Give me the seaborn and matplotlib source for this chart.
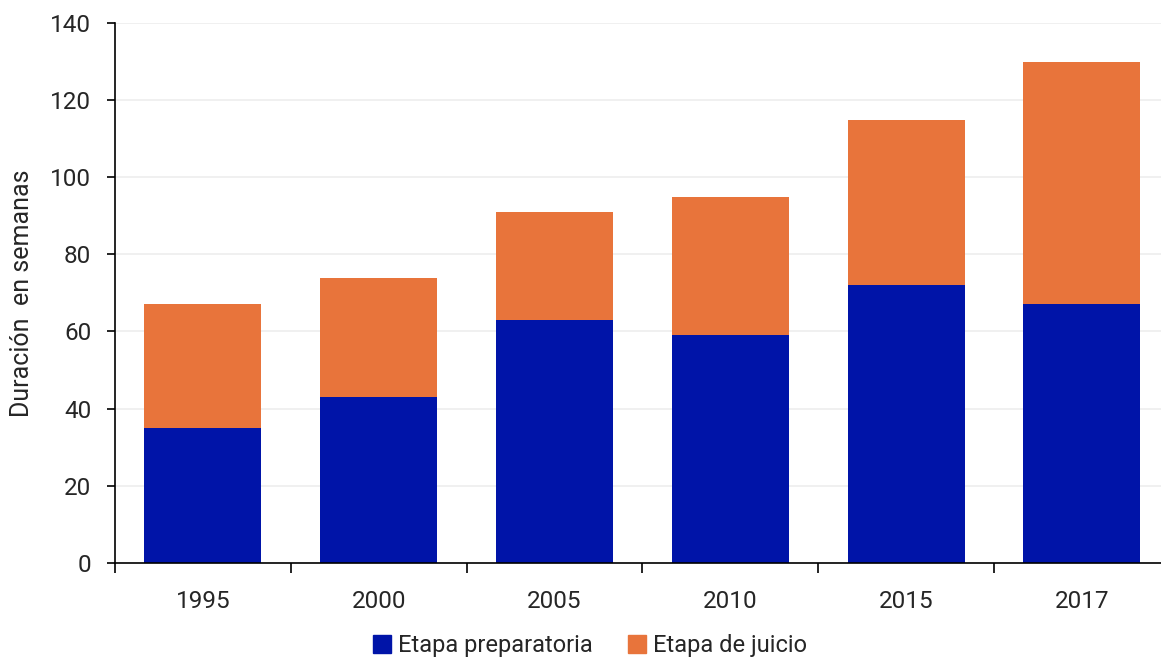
import matplotlib
matplotlib.use("Agg")
import matplotlib.pyplot as plt
import seaborn as sns
import pandas as pd
import numpy as np
from matplotlib.patches import Patch

years = ["1995", "2000", "2005", "2010", "2015", "2017"]
preparatoria = [35, 43, 63, 59, 72, 67]
juicio = [32, 31, 28, 36, 43, 63]
totals = [p + j for p, j in zip(preparatoria, juicio)]

BLUE = "#0014A8"
ORANGE = "#E8743B"

sns.set_theme(style="white")
plt.rcParams['font.family'] = ['Roboto', 'DejaVu Sans']

fig = plt.figure(figsize=(11.61, 6.62), dpi=100)
ax = fig.add_axes([0.099, 0.150, 0.901, 0.815])

df = pd.DataFrame({"year": years, "total": totals, "prep": preparatoria})
sns.barplot(data=df, x="year", y="total", color=ORANGE, width=0.665, ax=ax,
            saturation=1, edgecolor="none")
sns.barplot(data=df, x="year", y="prep", color=BLUE, width=0.665, ax=ax,
            saturation=1, edgecolor="none")

ax.set_ylim(0, 140)
ax.set_xlim(-0.5, 5.45)
ax.set_yticks(np.arange(0, 141, 20))
ax.yaxis.grid(True, color="#eeeeee", linewidth=1.2)
ax.set_axisbelow(True)
ax.xaxis.grid(False)

for s in ["top", "right"]:
    ax.spines[s].set_visible(False)
for s in ["left", "bottom"]:
    ax.spines[s].set_color("black")
    ax.spines[s].set_linewidth(1.2)

ax.tick_params(axis="y", which="major", left=True, length=6, width=1.2,
               color="black", labelsize=17.5, pad=11)
ax.tick_params(axis="x", which="major", bottom=False, labelsize=17.5, pad=14)
ax.set_xticks(np.arange(-0.5, 5.0, 1.0), minor=True)
ax.tick_params(axis="x", which="minor", bottom=True, length=7, width=1.2,
               color="black")

ax.set_xlabel("")
ax.set_ylabel("Duración  en semanas", fontsize=18, labelpad=12)

handles = [Patch(color=BLUE, label="Etapa preparatoria"),
           Patch(color=ORANGE, label="Etapa de juicio")]
fig.legend(handles=handles, loc="lower center", bbox_to_anchor=(0.508, -0.025),
           ncol=2, frameon=False, fontsize=17, handlelength=0.75,
           handleheight=0.75, handletextpad=0.3, columnspacing=1.5)

fig.savefig("out.png", dpi=100)
